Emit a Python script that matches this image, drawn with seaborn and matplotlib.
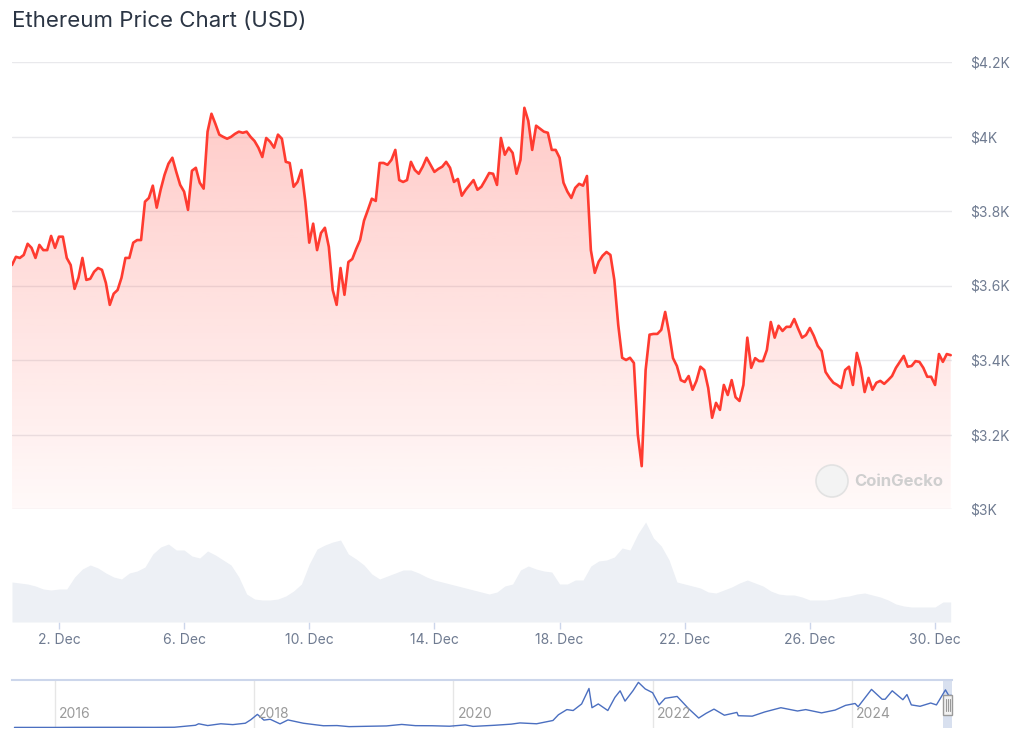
import numpy as np
import pandas as pd
import matplotlib
matplotlib.use("Agg")
import matplotlib.pyplot as plt
import matplotlib.dates as mdates
from matplotlib.patches import Circle, Rectangle
from matplotlib.transforms import IdentityTransform
import seaborn as sns

sns.set_theme(style="white")
plt.rcParams['font.family'] = ['Inter', 'DejaVu Sans']

# ETH price (USD), one reading every 3 hours from 30 Nov 2024 12:00
price = [
    3655, 3677, 3674, 3682, 3712, 3701, 3674, 3709, 3695, 3695,
    3733, 3701, 3731, 3731, 3674, 3655, 3591, 3621, 3674, 3615,
    3618, 3637, 3647, 3642, 3607, 3548, 3578, 3588, 3621, 3674,
    3674, 3715, 3722, 3722, 3825, 3835, 3868, 3809, 3857, 3897,
    3927, 3943, 3905, 3870, 3852, 3803, 3908, 3916, 3876, 3860,
    4013, 4061, 4034, 4005, 3999, 3994, 3999, 4007, 4013, 4010,
    4013, 3999, 3988, 3970, 3945, 3996, 3986, 3970, 4005, 3994,
    3932, 3929, 3865, 3878, 3910, 3825, 3715, 3766, 3695, 3741,
    3755, 3704, 3588, 3548, 3647, 3575, 3663, 3671, 3698, 3722,
    3774, 3803, 3833, 3827, 3929, 3929, 3924, 3937, 3964, 3883,
    3878, 3883, 3932, 3910, 3900, 3919, 3943, 3924, 3905, 3913,
    3919, 3932, 3916, 3878, 3886, 3841, 3857, 3870, 3883, 3857,
    3865, 3883, 3902, 3900, 3870, 3996, 3951, 3970, 3956, 3900,
    3937, 4077, 4042, 3964, 4029, 4021, 4013, 4010, 3964, 3964,
    3943, 3876, 3852, 3835, 3862, 3873, 3868, 3894, 3695, 3634,
    3664, 3680, 3690, 3682, 3615, 3494, 3406, 3400, 3406, 3392,
    3200, 3115, 3373, 3468, 3470, 3470, 3481, 3529, 3473, 3405,
    3384, 3346, 3341, 3357, 3320, 3344, 3382, 3373, 3325, 3245,
    3285, 3266, 3333, 3306, 3346, 3300, 3290, 3333, 3460, 3379,
    3405, 3397, 3397, 3427, 3502, 3460, 3492, 3478, 3489, 3489,
    3510, 3484, 3460, 3467, 3486, 3465, 3438, 3424, 3368, 3352,
    3339, 3333, 3325, 3373, 3382, 3333, 3419, 3379, 3314, 3352,
    3320, 3339, 3344, 3336, 3346, 3357, 3379, 3395, 3411, 3382,
    3384, 3397, 3395, 3379, 3355, 3355, 3333, 3416, 3395, 3416,
    3413,
]

# 24h trading volume (billion USD), one reading every 6 hours
volume_bn = [
    20, 19.5, 19, 18, 16.5, 16, 16.5, 16.5, 22.5, 26.5,
    28.5, 27, 24.5, 22.5, 21.5, 24.5, 25.5, 27.5, 34, 37.5,
    39, 36, 36, 33, 32, 35.5, 33.5, 31, 28.5, 22.5,
    14, 11.5, 11, 11, 11.5, 13, 15.5, 19, 29, 36.5,
    38.5, 40, 41, 34, 31.5, 28.5, 24, 21.5, 23, 24.5,
    26, 26, 24.5, 22.5, 21, 20, 19, 18, 17, 16,
    15, 14, 15, 18, 19, 26, 28, 26.5, 25.5, 25,
    19, 19, 21, 21, 28, 30.5, 31, 32.5, 37, 36,
    44, 50, 42, 38, 31, 20, 19, 18, 17, 15,
    14.5, 16, 17.5, 19.5, 21, 19.5, 18, 15.5, 14, 13.5,
    13.5, 12.5, 11, 11, 11, 11.5, 12.5, 13, 14, 14.5,
    13.5, 12.5, 11, 9, 8, 7.5, 7.5, 7.5, 7.5, 10,
    10,
]

# all-time history shown in the navigator
nav_dates = [
    "2015-08-07", "2015-12-31", "2016-03-15", "2016-06-15", "2016-09-30",
    "2016-12-31", "2017-03-15", "2017-05-31", "2017-06-12", "2017-07-15",
    "2017-09-01", "2017-10-15", "2017-11-30", "2017-12-20", "2018-01-13",
    "2018-02-06", "2018-03-01", "2018-04-06", "2018-05-05", "2018-06-30",
    "2018-08-15", "2018-09-12", "2018-11-01", "2018-12-15", "2019-02-15",
    "2019-05-01", "2019-06-26", "2019-08-15", "2019-10-15", "2019-12-18",
    "2020-02-14", "2020-03-13", "2020-05-31", "2020-07-31", "2020-09-01",
    "2020-11-01", "2020-12-31", "2021-01-20", "2021-02-20", "2021-03-15",
    "2021-04-15", "2021-05-12", "2021-05-23", "2021-06-15", "2021-07-20",
    "2021-08-15", "2021-09-03", "2021-09-21", "2021-10-20", "2021-11-09",
    "2021-12-04", "2021-12-31", "2022-01-24", "2022-02-15", "2022-03-31",
    "2022-05-12", "2022-06-18", "2022-07-15", "2022-08-13", "2022-09-20",
    "2022-11-05", "2022-11-10", "2022-12-31", "2023-02-15", "2023-04-15",
    "2023-06-15", "2023-07-15", "2023-09-11", "2023-10-31", "2023-12-08",
    "2024-01-12", "2024-01-23", "2024-03-12", "2024-04-20", "2024-05-01",
    "2024-05-27", "2024-07-05", "2024-07-20", "2024-08-05", "2024-09-06",
    "2024-10-15", "2024-11-05", "2024-12-08", "2024-12-20", "2024-12-30",
]
nav_price = [
    2.8, 0.9, 11, 14, 13, 8, 20, 230, 390, 200,
    390, 300, 450, 820, 1390, 780, 870, 380, 800, 450,
    280, 180, 200, 85, 120, 160, 320, 190, 180, 130,
    270, 110, 230, 350, 480, 390, 740, 1350, 1900, 1800,
    2500, 4150, 2100, 2500, 1800, 3200, 3900, 2800, 3900, 4800,
    4100, 3700, 2400, 3100, 3300, 2000, 1000, 1500, 1950, 1300,
    1600, 1250, 1200, 1650, 2100, 1750, 1900, 1550, 1850, 2350,
    2550, 2200, 4050, 3000, 3000, 3900, 2950, 3500, 2400, 2250,
    2600, 2400, 4000, 3400, 3410,
]

tick_days = [2, 6, 10, 14, 18, 22, 26, 30]
price_ticks = [3000, 3200, 3400, 3600, 3800, 4000, 4200]
price_labels = ["$3K", "$3.2K", "$3.4K", "$3.6K", "$3.8K", "$4K", "$4.2K"]
nav_years = [2016, 2018, 2020, 2022, 2024]

t0 = pd.Timestamp("2024-11-30 12:00")
df = pd.DataFrame({"time": pd.date_range(t0, periods=len(price), freq="3h"), "price": price})
vol = pd.DataFrame({"time": pd.date_range(t0, periods=len(volume_bn), freq="6h"), "volume": volume_bn})
nav = pd.DataFrame({"date": pd.to_datetime(nav_dates), "price": nav_price})

RED = "#ff3b30"
LABEL = "#6f7b91"

W, H = 1024, 748
fig = plt.figure(figsize=(W / 100, H / 100), dpi=100)
fig.patch.set_facecolor("white")


def box(x0, y0, x1, y1):
    return [x0 / W, 1 - y1 / H, (x1 - x0) / W, (y1 - y0) / H]


ax = fig.add_axes(box(12, 62, 952, 509))
axv = fig.add_axes(box(12, 520, 952, 622))
axn = fig.add_axes(box(12, 680, 952, 728))

x_lo, x_hi = t0, t0 + pd.Timedelta(hours=721)

# --- price panel ---
poly = ax.fill_between(df["time"], df["price"], 3000, color="none", lw=0)
n = 256
rgba = np.zeros((n, 1, 4))
rgba[..., 0], rgba[..., 1], rgba[..., 2] = 1.0, 59 / 255, 48 / 255
rgba[:, 0, 3] = np.linspace(0.03, 0.27, n)
xn = mdates.date2num(df["time"])
img = ax.imshow(rgba, aspect="auto", origin="lower",
                extent=[xn[0], xn[-1], 3000, 4100], zorder=1)
img.set_clip_path(poly.get_paths()[0], ax.transData)

sns.lineplot(data=df, x="time", y="price", ax=ax, color=RED, lw=1.9, zorder=3)

ax.set_xlim(x_lo, x_hi)
ax.set_ylim(3000, 4200)
ax.set_yticks(price_ticks)
ax.set_yticklabels(price_labels)
ax.yaxis.tick_right()
ax.yaxis.grid(True, color="#e9e9ec", lw=1)
ax.xaxis.grid(False)
ax.set_xticks([])
ax.set_xlabel("")
ax.set_ylabel("")
ax.tick_params(axis="y", length=0, pad=13, labelsize=10, labelcolor=LABEL)
for s in ax.spines.values():
    s.set_visible(False)

# watermark
fig.add_artist(Circle((832, H - 481), 16, transform=IdentityTransform(),
                      facecolor="#f3f3f3", edgecolor="#e2e2e2", lw=1.2))
fig.text(854 / W, 1 - 481 / H, "CoinGecko", color="#cfcfcf", fontsize=12,
         va="center", ha="left", fontweight="bold")

# --- volume panel ---
axv.fill_between(vol["time"], vol["volume"], 0, color="#edf0f5", lw=0)
axv.set_xlim(x_lo, x_hi)
axv.set_ylim(0, 51)
axv.set_yticks([])
ticks = [pd.Timestamp(2024, 12, d) for d in tick_days]
axv.set_xticks(ticks)
axv.set_xticklabels([f"{d}. Dec" for d in tick_days])
axv.tick_params(axis="x", length=5, width=1, color="#ccd6eb", pad=3,
                labelsize=10, labelcolor=LABEL, bottom=True)
for s in axv.spines.values():
    s.set_visible(False)

# --- navigator ---
sns.lineplot(data=nav, x="date", y="price", ax=axn, color="#4b6fc0", lw=1)
axn.set_xlim(pd.Timestamp("2015-07-29"), pd.Timestamp("2025-01-01"))
axn.set_ylim(-60, 5050)
axn.set_xticks([])
axn.set_yticks([])
axn.set_xlabel("")
axn.set_ylabel("")
for yr in nav_years:
    d = pd.Timestamp(yr, 1, 1)
    axn.axvline(d, color="#e6e6e6", lw=1, zorder=0)
    axn.annotate(str(yr), (mdates.date2num(d), 0), xycoords=("data", "axes fraction"),
                 xytext=(3, 5), textcoords="offset points", color="#9a9a9a",
                 fontsize=10, ha="left", va="bottom")
for side in ["left", "right", "bottom"]:
    axn.spines[side].set_visible(False)
axn.spines["top"].set_color("#ccd6eb")
axn.spines["top"].set_linewidth(1.5)
axn.axvspan(t0, x_hi, color="#6685c2", alpha=0.25, lw=0)
fig.add_artist(Rectangle((943, H - 715), 9, 20, facecolor="#f2f2f2",
                         edgecolor="#9a9a9a", lw=1, transform=IdentityTransform(),
                         zorder=5))
for dx in (945.5, 947.5, 949.5):
    fig.add_artist(plt.Line2D([dx, dx], [H - 711, H - 699], color="#9a9a9a", lw=0.8,
                              transform=IdentityTransform(), zorder=6))

# title
fig.text(12 / W, 1 - 21 / H, "Ethereum Price Chart (USD)", fontsize=16,
         color="#2b3544", va="center", ha="left")

fig.savefig("out.png", dpi=100)
